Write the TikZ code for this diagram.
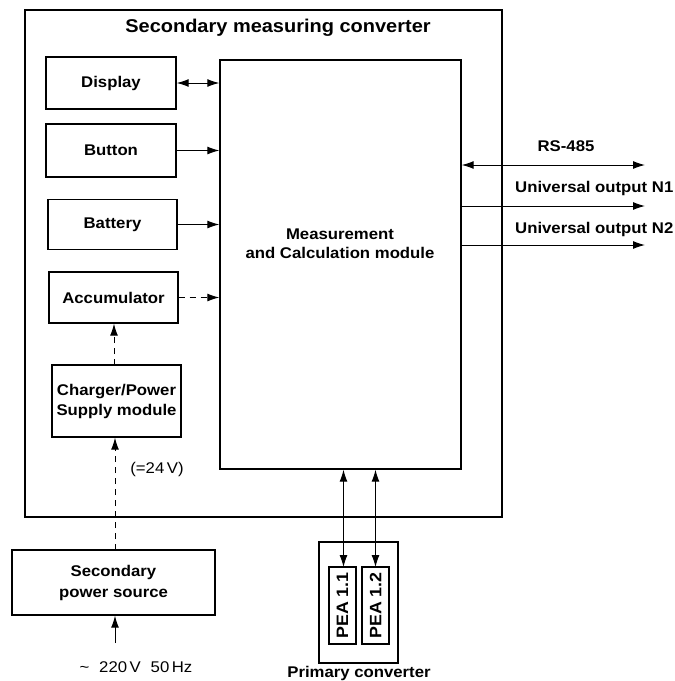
\documentclass[tikz,border=0pt]{standalone}
\usepackage{fontspec}
\setmainfont{Liberation Sans}[FakeStretch=1.08]
\usetikzlibrary{arrows.meta}
\begin{document}
\begin{tikzpicture}[x=1pt,y=-1pt,
  every node/.style={font=\fontsize{15.5}{19}\selectfont\bfseries, align=center, inner sep=0pt},
  box/.style={draw, line width=1.4pt, rectangle},
  tip/.style={},
  arr/.style={line width=1pt, -{Latex[length=12pt,width=8pt]}},
  darr/.style={line width=1pt, {Latex[length=12pt,width=8pt]}-{Latex[length=12pt,width=8pt]}},
  dasharr/.style={line width=1pt, dash pattern=on 6pt off 5pt, -{Latex[length=12pt,width=8pt]}},
  plain/.style={font=\fontsize{15.5}{19}\selectfont}
]
\useasboundingbox (0,0) rectangle (675,681);
% outer
\node[box, minimum width=477pt, minimum height=507pt] (outer) at (263.5,263.5) {};
\node[font=\fontsize{18.5}{22}\selectfont\bfseries] (title) at (278,28) {Secondary measuring converter};
% left boxes
\node[box, minimum width=130pt, minimum height=52pt] (disp) at (111,83) {Display};
\node[box, minimum width=130pt, minimum height=53pt] (btn) at (111,150.5) {Button};
\node[box, minimum width=129pt, minimum height=50pt] (bat) at (112.5,224.5) {Battery};
\node[box, minimum width=129pt, minimum height=51pt] (acc) at (113.5,297.5) {Accumulator};
\node[box, minimum width=129pt, minimum height=72pt, font=\fontsize{15.5}{20}\selectfont\bfseries] (chg) at (116.5,401) {Charger/Power\\Supply module};
% main
\node[box, minimum width=241pt, minimum height=409pt] (main) at (340.5,264.5) {};
\node[font=\fontsize{15.5}{19}\selectfont\bfseries] (maintxt) at (340,244) {Measurement\\and Calculation module};
% bottom
\node[box, minimum width=203pt, minimum height=65pt, font=\fontsize{15.5}{21}\selectfont\bfseries] (src) at (113.5,582.5) {Secondary\\power source};
\node[box, minimum width=79pt, minimum height=121pt] (prim) at (358.5,602.5) {};
\node[box, minimum width=27pt, minimum height=77pt] (pea1) at (342.5,605.5) {};
\node[box, minimum width=27pt, minimum height=77pt] (pea2) at (375.5,605.5) {};
\node[rotate=90, font=\fontsize{16.5}{19}\selectfont\bfseries] (pea1t) at (pea1) {PEA 1.1};
\node[rotate=90, font=\fontsize{16.5}{19}\selectfont\bfseries] (pea2t) at (pea2) {PEA 1.2};
\node (primt) at (359,673) {Primary converter};
% labels
\node[plain] (v24) at (157,469) {(=24\,V)};
\node[plain] (ac) at (136,667) {\textasciitilde{}\,\, 220\,V\,\, 50\,Hz};
\node (rs) at (566,146) {RS-485};
\node[anchor=west] (n1) at (515,188) {Universal output N1};
\node[anchor=west] (n2) at (515,229) {Universal output N2};
% connectors
\draw[darr] (disp.east) -- (disp.east -| main.west);
\draw[arr] (btn.east) -- (btn.east -| main.west);
\draw[arr] (bat.east) -- (bat.east -| main.west);
\draw[dasharr] (acc.east) -- (acc.east -| main.west);
\coordinate (c1) at (114,365);
\draw[dasharr] (c1) -- (c1 |- acc.south);
\coordinate (c2) at (115,550);
\draw[dasharr] (c2) -- (c2 |- chg.south);
\coordinate (c3) at (115,643);
\draw[arr] (c3) -- (c3 |- src.south);
\coordinate (r1) at (645,165);
\coordinate (r2) at (645,206);
\coordinate (r3) at (645,245);
\draw[darr] (main.east |- r1) -- (r1);
\draw[arr] (main.east |- r2) -- (r2);
\draw[arr] (main.east |- r3) -- (r3);
\coordinate (p1) at (343.5,567);
\coordinate (p2) at (375.5,567);
\draw[darr] (p1 |- main.south) -- (p1);
\draw[darr] (p2 |- main.south) -- (p2);
\end{tikzpicture}
\end{document}
